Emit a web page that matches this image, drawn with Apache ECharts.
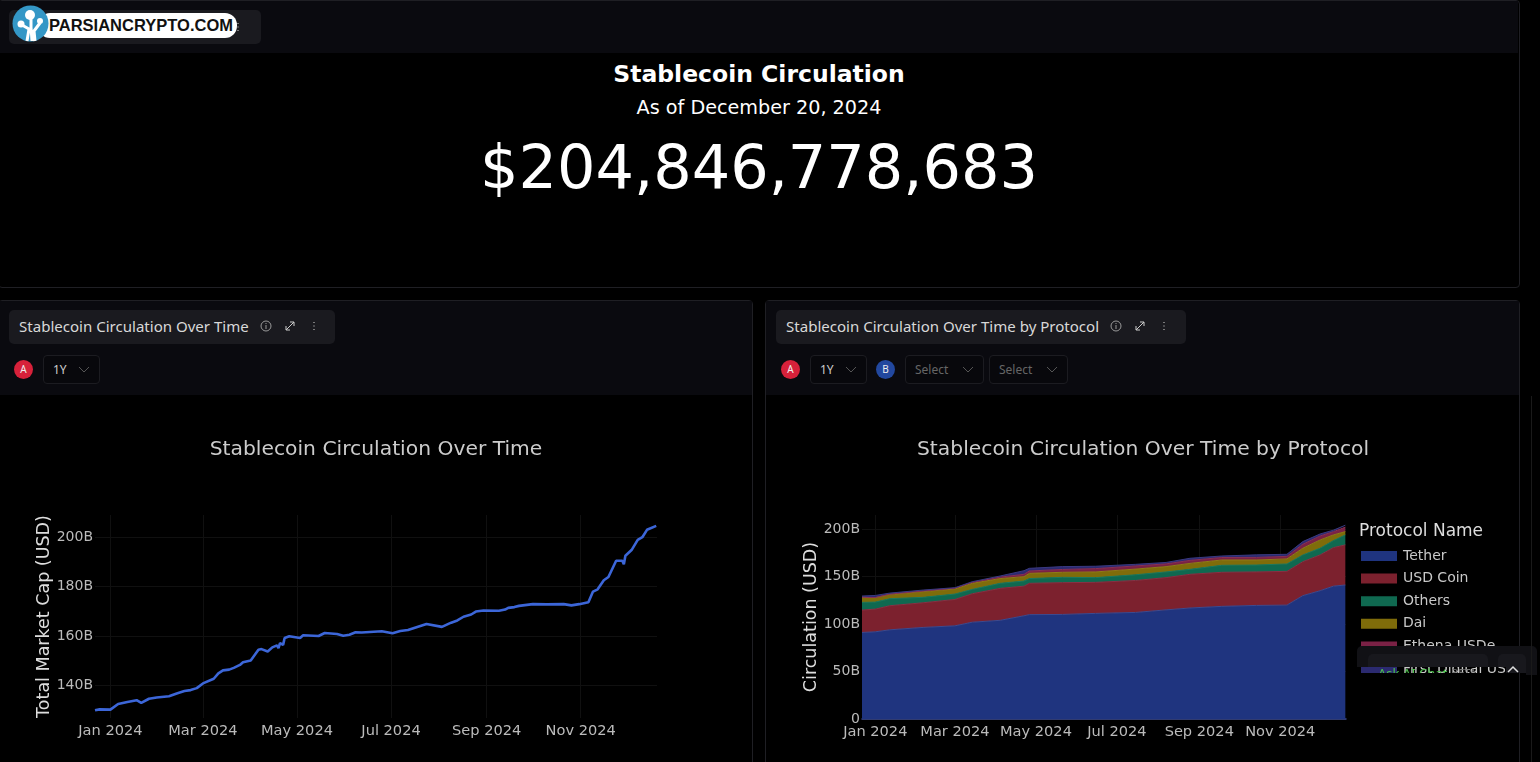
<!DOCTYPE html>
<html>
<head>
<meta charset="utf-8">
<title>Stablecoin Circulation</title>
<script src="https://cdn.jsdelivr.net/npm/echarts@6/dist/echarts.min.js"></script>
<style>
  html, body { margin: 0; padding: 0; background: #000; width: 1540px; height: 762px; overflow: hidden; }
  body { position: relative; font-family: "Noto Sans", sans-serif; color: #ddd; }
  .abs { position: absolute; box-sizing: border-box; }
  .panel { border: 1px solid #1f1f24; border-radius: 4px; }
  .head { background: #0a0a0f; }
  .pill { background: #1a1a1f; border-radius: 5px; display: flex; align-items: center; padding-left: 10px; padding-bottom: 2px; font-size: 15.05px; color: #d8d8d8; white-space: nowrap; }
  .pill svg { margin-left: 10px; flex: none; }
  .badge { width: 19px; height: 19px; border-radius: 50%; color: #eee; font-size: 10px; line-height: 19px; text-align: center; }
  .sel { height: 29px; border: 1px solid #1c1c21; border-radius: 4px; font-size: 12px; line-height: 27px; padding-left: 9px; color: #ccc; background: #08080c; }
  .sel.dim { color: #666; }
  .sel svg { position: absolute; right: 9px; top: 10px; }
  .big { left: 0; width: 1518px; text-align: center; font-family: "DejaVu Sans", sans-serif; color: #fff; white-space: nowrap; }
  #chartLeft, #chartRight { position: absolute; }
</style>
</head>
<body>

<!-- top panel -->
<div class="abs panel" style="left:-2px;top:0;width:1522px;height:288px"></div>
<div class="abs head" style="left:0;top:1px;width:1518px;height:52px"></div>
<div class="abs pill" style="left:9px;top:10px;width:252px;height:34px"></div>
<svg class="abs" style="left:232px;top:21px" width="12" height="12" viewBox="0 0 12 12"><path d="M6 2v1M6 5.5v1M6 9v1" stroke="#999" stroke-width="1.5"/></svg>
<div class="abs big" style="top:59px;font-size:23.5px;font-weight:bold;line-height:30px">Stablecoin Circulation</div>
<div class="abs big" style="top:95px;font-size:19.2px;line-height:26px">As of December 20, 2024</div>
<div class="abs big" style="top:128px;font-size:60.5px;line-height:78px">$204,846,778,683</div>

<!-- left panel -->
<div class="abs panel" style="left:-2px;top:300px;width:755px;height:470px"></div>
<div class="abs head" style="left:0;top:301px;width:752px;height:94px"></div>
<div class="abs pill" style="left:9px;top:310px;width:326px;height:34px">Stablecoin Circulation Over Time
  <svg width="14" height="12" viewBox="0 0 12 12"><circle cx="6" cy="6" r="5" fill="none" stroke="#999"/><path d="M6 5v4M6 3v1" stroke="#999"/></svg>
  <svg width="14" height="12" viewBox="0 0 12 12"><path d="M2 10l8-8M6 2h4v4M2 6v4h4" fill="none" stroke="#ccc"/></svg>
  <svg width="14" height="12" viewBox="0 0 12 12"><path d="M6 2v1M6 5.5v1M6 9v1" stroke="#999" stroke-width="1.5"/></svg>
</div>
<div class="abs badge" style="left:14px;top:360px;background:#d7213a">A</div>
<div class="abs sel" style="left:43px;top:355px;width:57px">1Y
  <svg width="12" height="8" viewBox="0 0 12 8"><path d="M1 1l5 5 5-5" fill="none" stroke="#555"/></svg>
</div>

<!-- right panel -->
<div class="abs panel" style="left:765px;top:300px;width:755px;height:470px"></div>
<div class="abs head" style="left:766px;top:301px;width:753px;height:94px"></div>
<div class="abs pill" style="left:776px;top:310px;width:410px;height:34px">Stablecoin Circulation Over Time by Protocol
  <svg width="14" height="12" viewBox="0 0 12 12"><circle cx="6" cy="6" r="5" fill="none" stroke="#999"/><path d="M6 5v4M6 3v1" stroke="#999"/></svg>
  <svg width="14" height="12" viewBox="0 0 12 12"><path d="M2 10l8-8M6 2h4v4M2 6v4h4" fill="none" stroke="#ccc"/></svg>
  <svg width="14" height="12" viewBox="0 0 12 12"><path d="M6 2v1M6 5.5v1M6 9v1" stroke="#999" stroke-width="1.5"/></svg>
</div>
<div class="abs badge" style="left:781px;top:360px;background:#d7213a">A</div>
<div class="abs sel" style="left:810px;top:355px;width:57px">1Y
  <svg width="12" height="8" viewBox="0 0 12 8"><path d="M1 1l5 5 5-5" fill="none" stroke="#555"/></svg>
</div>
<div class="abs badge" style="left:876px;top:360px;background:#22489f">B</div>
<div class="abs sel dim" style="left:905px;top:355px;width:79px">Select
  <svg width="12" height="8" viewBox="0 0 12 8"><path d="M1 1l5 5 5-5" fill="none" stroke="#555"/></svg>
</div>
<div class="abs sel dim" style="left:989px;top:355px;width:79px">Select
  <svg width="12" height="8" viewBox="0 0 12 8"><path d="M1 1l5 5 5-5" fill="none" stroke="#555"/></svg>
</div>

<!-- charts -->
<div id="chartLeft" style="left:0;top:396px;width:752px;height:366px"></div>
<div id="chartRight" style="left:766px;top:396px;width:770px;height:366px"></div>

<!-- ask ai box, cuts the legend off -->
<div class="abs" style="left:1357px;top:646px;width:180px;height:21px;background:#111115;border-radius:5px 5px 0 0"></div>
<div class="abs" style="left:1368px;top:654px;width:120px;height:13px;background:#18181d;border-radius:5px 5px 0 0"></div>
<div class="abs" style="left:1498px;top:654px;width:28px;height:13px;background:#18181d;border-radius:5px 5px 0 0"></div>
<div class="abs" style="left:1506px;top:667px;width:20px;height:6px;background:#18181d"></div>
<div class="abs" style="left:1526px;top:667px;width:11px;height:8px;background:#111115"></div>
<div class="abs" style="left:1350px;top:673px;width:168px;height:30px;background:#000"></div>
<div class="abs" style="left:1357px;top:666px;width:140px;height:7px;overflow:hidden;font-size:13px;line-height:16px;white-space:nowrap">
  <span class="abs" style="left:21px;top:-1px;color:#4cc24c">Ask AI Chat</span>
  <span class="abs" style="left:94px;top:-1px;color:#777;font-size:11px">BETA</span>
</div>
<svg class="abs" style="left:1506px;top:665px" width="14" height="9" viewBox="0 0 14 9"><path d="M2 7l5-5 5 5" fill="none" stroke="#ddd" stroke-width="1.5"/></svg>
<div class="abs" style="left:1531px;top:396px;width:1px;height:366px;background:#1a1a1a"></div>

<!-- logo -->
<div class="abs" style="left:38px;top:13px;width:199px;height:25px;background:#fff;border-radius:12px;color:#111;font-family:'Liberation Sans',sans-serif;font-weight:bold;font-size:16.5px;line-height:25px;padding-left:11px;white-space:nowrap">PARSIANCRYPTO.COM</div>
<svg class="abs" style="left:12px;top:5px" width="37" height="37" viewBox="0 0 37 37">
  <circle cx="18.5" cy="18.5" r="18" fill="#3497c6"/>
  <path d="M15 36l2-12-7-4M20 36l-1-14 0-10M23 36l-1-10 6-8" fill="none" stroke="#fff" stroke-width="3"/>
  <circle cx="18" cy="10" r="5" fill="#fff"/><circle cx="9" cy="19" r="3.5" fill="#fff"/><circle cx="28" cy="16" r="3" fill="#fff"/>
</svg>

<script>
// total market cap, billions USD
const totalDates = ['2023-12-22','2023-12-25','2024-01-01','2024-01-06','2024-01-12','2024-01-18','2024-01-21','2024-01-26','2024-01-31','2024-02-08','2024-02-13','2024-02-18','2024-02-22','2024-02-26','2024-03-01','2024-03-08','2024-03-11','2024-03-14','2024-03-18','2024-03-21','2024-03-25','2024-03-27','2024-04-01','2024-04-06','2024-04-08','2024-04-12','2024-04-15','2024-04-18','2024-04-19','2024-04-20','2024-04-22','2024-04-23','2024-04-26','2024-05-03','2024-05-05','2024-05-15','2024-05-19','2024-05-27','2024-05-31','2024-06-04','2024-06-08','2024-06-12','2024-06-25','2024-07-02','2024-07-07','2024-07-12','2024-07-24','2024-08-03','2024-08-09','2024-08-13','2024-08-17','2024-08-22','2024-08-25','2024-08-30','2024-09-09','2024-09-13','2024-09-15','2024-09-19','2024-09-22','2024-10-01','2024-10-02','2024-10-10','2024-10-21','2024-10-26','2024-10-31','2024-11-06','2024-11-09','2024-11-12','2024-11-16','2024-11-19','2024-11-24','2024-11-28','2024-11-29','2024-11-30','2024-12-04','2024-12-08','2024-12-11','2024-12-14','2024-12-20'];
const totalValues = [129.9,130.3,130.2,132.5,133.3,134.0,132.9,134.6,135.1,135.6,136.7,137.7,138.1,138.9,140.8,142.7,144.9,146.1,146.4,147.1,148.3,149.4,150.1,154.4,154.7,153.7,155.4,156.2,155.1,157.1,156.4,159.2,159.9,159.2,160.3,160.0,161.2,160.8,160.1,160.5,161.5,161.4,161.9,161.1,162.0,162.4,164.9,163.7,165.4,166.3,167.8,168.7,169.9,170.3,170.2,170.7,171.4,171.7,172.2,172.9,172.5,172.8,172.9,172.4,172.9,173.7,178.0,178.9,182.6,183.9,190.5,190.5,189.1,192.5,194.8,198.9,200.0,203.0,204.6];

// circulation by protocol, billions USD
const protocolDates = ['2023-12-22','2024-01-01','2024-01-12','2024-02-06','2024-03-01','2024-03-14','2024-04-04','2024-04-22','2024-04-26','2024-05-21','2024-06-15','2024-07-15','2024-08-07','2024-08-25','2024-09-18','2024-10-14','2024-11-06','2024-11-18','2024-12-01','2024-12-11','2024-12-20'];
const tether = [91.2,91.9,94,96.5,98.2,102,104,108.8,110,110.2,111.3,112.3,115,117,118.7,119.7,120,130,135.2,140,141.2];
const usdCoin = [23.6,23.9,25.4,26,27.8,30,33.7,31.2,33,33.5,32.7,33.7,34,35.5,35.9,35.3,35.6,35.8,37.7,40.6,42.3];
const others = [8.1,7.4,7.4,5.7,5.7,4.6,5.3,5.4,5,5.6,5,6,6,5.2,7.4,7.3,7.8,7.1,7.1,7.4,10.5];
const dai = [5.3,4.6,4.5,6,5.3,6.4,5,4.6,5.5,5.3,6,6,5.6,6.3,5.6,5.3,5.3,7.1,8.7,6,3.5];
const ethena = [0.1,0.2,0.3,0.7,0.9,1,1.5,2.5,2.5,3,3.5,3.3,2.9,3.2,2.6,2.7,2.7,4.2,4.2,3.4,4.7];
const firstDigital = [1.3,2.2,1.1,1,0.5,0.7,1.2,3.8,2.8,3,2.5,1.7,1.5,2.2,1.6,2.7,2.2,2.8,2.1,1.6,2];

// tick labels
const monthNames = ['Jan','Feb','Mar','Apr','May','Jun','Jul','Aug','Sep','Oct','Nov','Dec'];
const leftYTicks = [140,160,180,200];
const rightYTicks = [0,50,100,150,200];

const font = '"DejaVu Sans", sans-serif';

// splitNumber 6 makes the time axis tick every second month
function xAxis(baseLine) {
  return {
    type: 'time',
    min: '2023-12-22',
    max: '2024-12-20 12:00:00',
    splitNumber: 6,
    axisLine: baseLine ? { show: true, onZero: false, lineStyle: { color: baseLine, width: 1.5 } } : { show: false },
    axisTick: { show: false },
    splitLine: { show: true, showMinLine: false, showMaxLine: false, lineStyle: { color: '#101010', width: 1 } },
    axisLabel: {
      color: '#bbb', fontFamily: font, fontSize: 14.6, margin: 6,
      showMinLabel: false, showMaxLabel: false, hideOverlap: false,
      formatter: v => { const d = new Date(v); return monthNames[d.getMonth()] + ' ' + d.getFullYear(); }
    }
  };
}

function yAxis(name, min, max, ticks, gap, labelPad) {
  return {
    type: 'value', min: min, max: max, name: name,
    nameLocation: 'middle', nameGap: gap, nameMoveOverlap: false,
    nameTextStyle: { color: '#ddd', fontFamily: font, fontSize: 17.5 },
    axisLine: { show: false },
    axisTick: { show: false, customValues: ticks },
    splitLine: { show: true, lineStyle: { color: '#101010', width: 1 } },
    axisLabel: {
      customValues: ticks, color: '#bbb', fontFamily: font, fontSize: 14, margin: 2,
      padding: [labelPad, 0, 0, 0],
      formatter: v => v === 0 ? '0' : v + 'B'
    }
  };
}

const left = echarts.init(document.getElementById('chartLeft'));
left.setOption({
  animation: false,
  backgroundColor: 'transparent',
  title: { text: 'Stablecoin Circulation Over Time', left: 'center', top: 39,
    textStyle: { color: '#ccc', fontFamily: font, fontSize: 20.3, fontWeight: 'normal' } },
  grid: { left: 95, right: 95, top: 119, bottom: 44 },
  xAxis: xAxis(null),
  yAxis: yAxis('Total Market Cap (USD)', 126.8, 209, leftYTicks, 42, 0),
  series: [{
    name: 'Total Market Cap', type: 'line', showSymbol: false,
    lineStyle: { color: '#3c66d8', width: 2.6 },
    data: totalDates.map((d, i) => [d, totalValues[i]])
  }]
});

const protocols = [
  { name: 'Tether', data: tether, fill: '#1f347f', line: '#3d4a90' },
  { name: 'USD Coin', data: usdCoin, fill: '#7c212e', line: '#8a3044' },
  { name: 'Others', data: others, fill: '#0f6950', line: '#1c7a60' },
  { name: 'Dai', data: dai, fill: '#7f6c0a', line: '#8f7c18' },
  { name: 'Ethena USDe', data: ethena, fill: '#7a2145', line: '#8a3055' },
  { name: 'First Digital USD', data: firstDigital, fill: '#2b2a70', line: '#3a3980' }
];

const right = echarts.init(document.getElementById('chartRight'));
right.setOption({
  animation: false,
  backgroundColor: 'transparent',
  title: [
    { text: 'Stablecoin Circulation Over Time by Protocol', left: 146, top: 39,
      textStyle: { color: '#ccc', fontFamily: font, fontSize: 20.3, fontWeight: 'normal' } },
    { text: 'Protocol Name', left: 593, top: 127, padding: 0,
      textStyle: { color: '#ddd', fontFamily: font, fontSize: 17, fontWeight: 'normal' } }
  ],
  legend: {
    orient: 'vertical', left: 595, top: 153, padding: 0,
    itemWidth: 36, itemHeight: 10, itemGap: 8.6, icon: 'rect',
    textStyle: { color: '#c8c8c8', fontFamily: font, fontSize: 14, padding: [0, 0, 0, 1] },
    data: protocols.map(p => p.name)
  },
  grid: { left: 96, right: 190, top: 119, bottom: 43 },
  xAxis: xAxis('#3d4a90'),
  yAxis: yAxis('Circulation (USD)', 0, 215, rightYTicks, 42, 2),
  series: protocols.map(p => ({
    name: p.name, type: 'line', stack: 'total', showSymbol: false,
    itemStyle: { color: p.fill },
    lineStyle: { color: p.line, width: 1 },
    areaStyle: { color: p.fill, opacity: 1 },
    data: protocolDates.map((d, i) => [d, p.data[i]])
  }))
});
</script>
</body>
</html>
